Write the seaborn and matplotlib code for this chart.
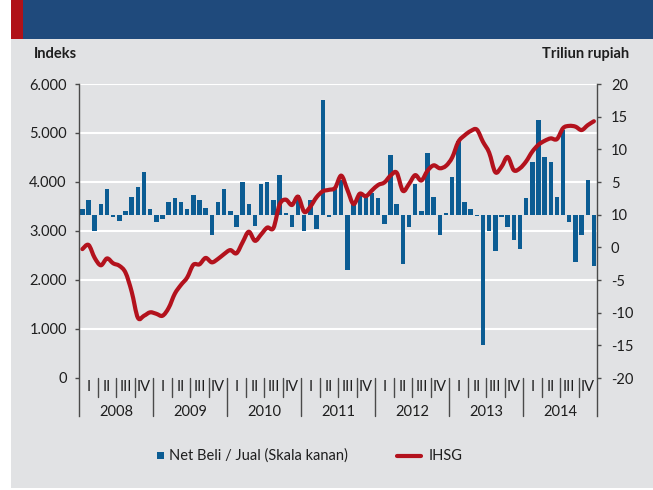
import matplotlib
matplotlib.use("Agg")
import numpy as np
import pandas as pd
import matplotlib.pyplot as plt
import seaborn as sns
from matplotlib.patches import Rectangle, PathPatch
from matplotlib.path import Path
from matplotlib.lines import Line2D
from matplotlib.transforms import blended_transform_factory

# ---- data -------------------------------------------------------------
years = ["2008", "2009", "2010", "2011", "2012", "2013", "2014"]
quarters = ["I", "II", "III", "IV"]

# monthly net buy / sell of foreign investors (trillion rupiah), Jan 2008 - Dec 2014
net_flow = [
    0.8, 2.2, -2.5, 1.6, 3.9, -0.3, -0.9, 0.55, 2.75, 4.2, 6.6, 0.8,
    -1.1, -0.6, 1.95, 2.55, 1.95, 0.8, 3.05, 2.25, 1.1, -3.05, 1.95, 3.9,
    0.55, -1.95, 5.0, 1.6, -1.7, 4.7, 5.0, 2.25, 6.1, 0.2, -1.95, 2.95,
    -2.5, 2.25, -2.25, 17.55, -0.3, 4.2, 5.3, -8.4, 1.6, 2.95, 2.95, 3.35,
    2.5, -1.4, 9.2, 1.6, -7.55, -1.95, 4.7, 0.55, 9.45, 2.75, -3.05, 0.2,
    5.8, 11.3, 1.95, 0.8, -0.25, -20.0, -2.45, -5.5, -0.3, -1.95, -3.9, -5.25,
    2.5, 8.05, 14.5, 8.9, 8.05, 2.75, 13.0, -1.05, -7.3, -3.05, 5.25, -7.8,
]

# monthly IHSG (composite index), Jan 2008 - Dec 2014
ihsg = [
    2630, 2715, 2450, 2300, 2440, 2340, 2290, 2150, 1760, 1230, 1270, 1340,
    1310, 1270, 1430, 1720, 1900, 2050, 2310, 2320, 2450, 2360, 2430, 2530,
    2610, 2545, 2770, 2985, 2800, 2930, 3070, 3060, 3540, 3640, 3530, 3700,
    3390, 3500, 3690, 3810, 3840, 3880, 4130, 3840, 3550, 3760, 3710, 3830,
    3940, 3990, 4130, 4190, 3820, 3960, 4140, 4030, 4230, 4340, 4280, 4330,
    4500, 4820, 4950, 5040, 5070, 4820, 4600, 4200, 4310, 4510, 4240, 4280,
    4420, 4620, 4760, 4840, 4890, 4875, 5100, 5145, 5130, 5060, 5160, 5240,
]

left_ticks = [0, 1000, 2000, 3000, 4000, 5000, 6000]
left_tick_labels = ["0", "1.000", "2.000", "3.000", "4.000", "5.000", "6.000"]
right_ticks = [20, 15, 10, 5, 0, -5, -10, -15, -20, -25]
right_tick_labels = ["20", "15", "10", "5", "10", "0", "-5", "-10", "-15", "-20"]

df = pd.DataFrame({"month": np.arange(len(net_flow)), "net": net_flow, "ihsg": ihsg})

# ---- style ------------------------------------------------------------
sns.set_theme(style="white")
plt.rcParams["font.family"] = ["Lato", "DejaVu Sans"]
TXT = "#1e1e1e"
BAR = "#0b5c93"
RED = "#b3121d"
BG = "#e1e2e4"
SPINE = "#4a4a4a"
FS = 10.5
LW = 3.0

W, H = 653, 490
fig = plt.figure(figsize=(W / 100, H / 100), dpi=100, facecolor="white")


def fx(px):
    return px / W


def fy(py):
    return 1 - py / H


def smooth_path(xy):
    """Cubic Bezier path passing through every vertex (Catmull-Rom tangents)."""
    n = len(xy)
    verts = [xy[0]]
    codes = [Path.MOVETO]
    for i in range(n - 1):
        p0 = xy[max(i - 1, 0)]
        p1 = xy[i]
        p2 = xy[i + 1]
        p3 = xy[min(i + 2, n - 1)]
        c1 = p1 + (p2 - p0) / 6.0
        c2 = p2 - (p3 - p1) / 6.0
        verts += [c1, c2, p2]
        codes += [Path.CURVE4] * 3
    return Path(np.array(verts), codes)


# panel background and header band (kept behind the axes)
fig.patches.append(Rectangle((fx(11), fy(488)), fx(W - 11), (488 - 38.7) / H,
                             transform=fig.transFigure, facecolor=BG, edgecolor="none", zorder=-5))
fig.patches.append(Rectangle((fx(23), fy(38.7)), fx(W - 23), 38.7 / H,
                             transform=fig.transFigure, facecolor="#1f4a7c", edgecolor="none", zorder=-5))
fig.patches.append(Rectangle((fx(11), fy(38.7)), fx(12), 38.7 / H,
                             transform=fig.transFigure, facecolor="#b01218", edgecolor="none", zorder=-5))

# ---- axes -------------------------------------------------------------
ax = fig.add_axes([fx(79.3), fy(416), (597 - 79.3) / W, (416 - 84) / H])
ax2 = ax.twinx()
ax2.set_zorder(1)
ax.set_zorder(2)
ax.patch.set_visible(False)
ax2.patch.set_visible(False)

left_lim = (-776, 6000)
right_lim = (-30.8, 20)

# horizontal grid in index units, placed beneath the bars
grid_tr = blended_transform_factory(ax2.transAxes, ax.transData)
for v in left_ticks[1:]:
    ax2.add_line(Line2D([0, 1], [v, v], transform=grid_tr, color="white", lw=1.5, zorder=0.5))

# bars: net flow (right scale)
sns.barplot(data=df, x="month", y="net", ax=ax2, color=BAR, saturation=1,
            width=0.72, native_scale=True, linewidth=0, zorder=2)

# line: IHSG (left scale), rendered as a smoothed curve through the monthly points
sns.lineplot(data=df, x="month", y="ihsg", ax=ax, color=RED, lw=LW, zorder=3)
base_line = ax.get_lines()[0]
curve = smooth_path(base_line.get_xydata())
ax.add_patch(PathPatch(curve, fill=False, edgecolor=RED, lw=LW, capstyle="round",
                       joinstyle="round", zorder=3))
base_line.remove()

ax.set_xlim(-0.5, len(net_flow) - 0.5)
ax.set_ylim(*left_lim)
ax2.set_ylim(*right_lim)

for a in (ax, ax2):
    a.set_xlabel("")
    a.set_ylabel("")
    a.set_xticks([])
    a.spines["top"].set_visible(False)
    a.spines["bottom"].set_visible(False)
ax.spines["right"].set_visible(False)
ax2.spines["left"].set_visible(False)
ax.spines["left"].set_color(SPINE)
ax.spines["left"].set_linewidth(1.0)
ax2.spines["right"].set_color(SPINE)
ax2.spines["right"].set_linewidth(1.0)

ax.yaxis.tick_left()
ax.set_yticks(left_ticks, left_tick_labels)
ax.tick_params(axis="y", direction="out", length=3, width=1, color=SPINE, pad=6,
               labelsize=FS, labelcolor=TXT)
ax2.yaxis.tick_right()
ax2.set_yticks(right_ticks, right_tick_labels)
ax2.tick_params(axis="y", direction="out", length=3, width=1, color=SPINE, pad=7,
                labelsize=FS, labelcolor=TXT)

# quarter / year category axis
tr = blended_transform_factory(ax.transData, ax.transAxes)
y_q = (416 - 387) / 332
y_y = (416 - 412) / 332
y_top = (416 - 378) / 332
y_qsep = (416 - 397) / 332
for i, yr in enumerate(years):
    base = 12 * i
    for q, ql in enumerate(quarters):
        ax.text(base + 3 * q + 1, y_q, ql, transform=tr, ha="center", va="center",
                fontsize=FS, color=TXT, clip_on=False)
        if q > 0:
            ax.plot([base + 3 * q - 0.5] * 2, [y_qsep, y_top], transform=tr,
                    color=SPINE, lw=1, clip_on=False)
    ax.text(base + 5.5, y_y, yr, transform=tr, ha="center", va="center",
            fontsize=FS, color=TXT, clip_on=False)
    if i > 0:
        ax.plot([base - 0.5] * 2, [0, y_top], transform=tr, color=SPINE, lw=1, clip_on=False)
ax.set_xlim(-0.5, len(net_flow) - 0.5)
ax.set_ylim(*left_lim)

# axis titles
fig.text(fx(34), fy(54), "Indeks", ha="left", va="center", fontsize=FS,
         fontweight="bold", color=TXT)
fig.text(fx(629.5), fy(54), "Triliun rupiah", ha="right", va="center", fontsize=FS,
         fontweight="bold", color=TXT)

# legend
fig.patches.append(Rectangle((fx(157.3), fy(459.3)), fx(7), 7.3 / H,
                             transform=fig.transFigure, facecolor=BAR, edgecolor="none"))
fig.text(fx(169), fy(455.7), "Net Beli / Jual (Skala kanan)", ha="left", va="center",
         fontsize=FS, color=TXT)
fig.add_artist(Line2D([fx(397), fx(421)], [fy(456), fy(456)], transform=fig.transFigure,
                      color=RED, lw=LW, solid_capstyle="round"))
fig.text(fx(428.7), fy(455.7), "IHSG", ha="left", va="center", fontsize=FS, color=TXT)

fig.savefig("out.png", dpi=100, facecolor="white")
